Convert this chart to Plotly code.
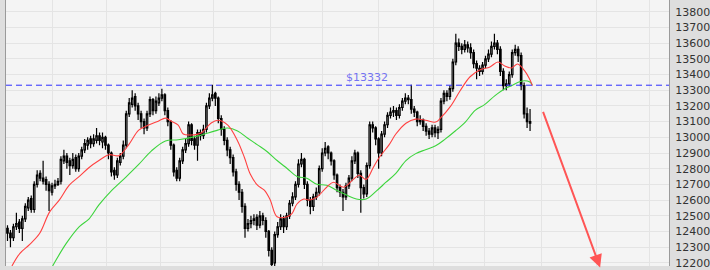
import plotly.graph_objects as go

# ---------------- data ----------------
idx = list(range(177))

opens = [12420,12390,12360,12430,12460,12420,12480,12550,12610,12540,
         12700,12770,12740,12730,12700,12650,12690,12700,12720,12850,
         12880,12850,12820,12870,12800,12880,12920,12950,12990,12960,
         12980,13010,12970,13000,12950,12900,12790,12760,12840,12880,
         12950,13150,13210,13260,13200,13150,13100,13060,13150,13240,
         13170,13220,13250,13270,13170,13100,12950,12790,12740,12850,
         12920,12960,13080,12990,12950,13030,13010,13050,13200,13250,
         13280,13250,13120,13050,12980,12920,12870,12780,12700,12650,
         12560,12420,12450,12470,12490,12440,12500,12470,12400,12280,
         12200,12380,12430,12480,12430,12500,12580,12620,12700,12830,
         12860,12700,12600,12560,12620,12650,12800,12900,12940,12900,
         12850,12760,12680,12650,12620,12690,12740,12850,12900,12770,
         12680,12640,12820,13080,13060,12990,12900,13020,13080,13140,
         13160,13170,13140,13190,13230,13250,13240,13180,13160,13100,
         13110,13070,13040,13020,13060,13030,13050,13230,13280,13260,
         13310,13480,13600,13580,13560,13590,13570,13540,13470,13440,
         13420,13460,13500,13530,13580,13600,13560,13420,13330,13340,
         13400,13540,13560,13520,13330,13150,13100]

closes = [12390,12360,12430,12450,12420,12480,12560,12600,12540,12700,
          12760,12740,12720,12700,12660,12690,12700,12720,12860,12880,
          12840,12820,12860,12800,12880,12920,12960,12980,12960,12990,
          13010,12980,13000,12950,12900,12780,12760,12850,12880,12950,
          13150,13220,13250,13200,13150,13100,13060,13150,13240,13170,
          13230,13250,13270,13170,13100,12950,12780,12740,12850,12920,
          12960,13080,12980,12950,13030,13010,13050,13200,13250,13270,
          13250,13120,13050,12980,12920,12870,12780,12700,12650,12560,
          12420,12450,12470,12480,12440,12500,12470,12400,12280,12190,
          12380,12430,12480,12430,12500,12580,12620,12700,12830,12860,
          12700,12600,12560,12620,12650,12800,12900,12930,12900,12850,
          12760,12680,12650,12620,12690,12740,12850,12900,12770,12680,
          12640,12820,13080,13060,12990,12900,13020,13080,13140,13160,
          13170,13140,13190,13230,13250,13240,13180,13160,13100,13110,
          13070,13040,13020,13060,13030,13050,13230,13280,13260,13310,
          13480,13600,13580,13560,13590,13570,13540,13470,13440,13420,
          13460,13500,13530,13580,13600,13560,13420,13330,13340,13400,
          13540,13560,13520,13330,13150,13100,13090]

highs = [12440,12410,12450,12520,12480,12500,12580,12620,12630,12720,
         12790,12790,12850,12750,12720,12710,12730,12740,12880,12920,
         12900,12870,12900,12890,12900,12940,12990,13000,13010,13020,
         13060,13030,13030,13010,12960,12910,12810,12870,12900,12980,
         13170,13250,13300,13280,13220,13170,13120,13170,13260,13250,
         13260,13280,13310,13280,13190,13110,12960,12810,12870,12940,
         12990,13100,13090,13010,13050,13050,13080,13220,13280,13335,
         13290,13260,13140,13070,13000,12940,12890,12800,12720,12670,
         12580,12480,12500,12510,12510,12530,12520,12490,12410,12300,
         12400,12460,12510,12500,12520,12600,12650,12720,12860,12900,
         12870,12720,12620,12640,12680,12820,12930,12970,12950,12910,
         12860,12770,12700,12670,12710,12760,12880,12920,12910,12790,
         12700,12840,13100,13100,13070,13000,13040,13100,13160,13190,
         13200,13190,13210,13250,13280,13270,13335,13200,13170,13140,
         13120,13090,13060,13080,13080,13070,13250,13300,13300,13330,
         13500,13660,13630,13600,13620,13610,13600,13560,13490,13460,
         13480,13520,13560,13610,13660,13620,13580,13440,13370,13420,
         13560,13590,13580,13540,13350,13190,13180]

lows = [12340,12300,12340,12410,12390,12340,12460,12530,12520,12520,
        12680,12720,12700,12660,12530,12630,12670,12690,12700,12830,
        12800,12760,12800,12780,12780,12860,12900,12920,12930,12940,
        12960,12950,12930,12920,12860,12750,12730,12740,12820,12860,
        12930,13130,13190,13170,13110,13060,13020,13040,13130,13140,
        13150,13200,13230,13140,13070,12920,12750,12720,12720,12830,
        12900,12940,12950,12920,12850,12980,12990,13030,13180,13230,
        13200,13090,13010,12950,12880,12830,12750,12660,12600,12520,
        12360,12400,12420,12440,12410,12420,12440,12360,12240,12160,
        12180,12360,12410,12390,12410,12480,12560,12600,12680,12810,
        12670,12560,12510,12530,12600,12630,12780,12880,12860,12820,
        12730,12650,12620,12530,12600,12670,12720,12830,12740,12520,
        12610,12620,12800,13030,12950,12800,12880,13000,13060,13120,
        13130,13110,13120,13170,13210,13210,13150,13130,13070,13080,
        13040,13010,12990,13000,13000,12990,13030,13210,13230,13240,
        13290,13460,13550,13530,13540,13540,13500,13440,13370,13390,
        13400,13440,13480,13510,13560,13530,13390,13300,13300,13320,
        13380,13520,13480,13300,13120,13060,13040]

# moving averages (candle index, price)
ma_fast_x = [1.5,4.2,7.5,10.8,14.2,17.5,20.8,24.2,27.5,30.8,34.2,37.5,40.8,44.2,
             47.5,50.8,53.2,55.2,57.5,59.2,61.8,65.2,68.5,70.8,74.2,77.5,79.8,
             81.8,84.2,86.5,88.5,90.8,94.2,95.8,97.5,99.8,101.8,104.2,107.5,
             109.8,113.2,116.5,118.5,120.8,123.2,125.2,128.5,130.8,134.2,137.5,
             140.8,144.2,145.8,149.2,152.5,155.8,159.2,162.5,165.2,167.5,169.8,
             171.8,174.2,175.8,176.8]
ma_fast_y = [12180,12261,12318,12387,12525,12601,12695,12751,12808,12852,12889,
             12883,12952,13046,13078,13103,13122,13103,13078,13021,13015,13028,
             13090,13109,13078,12977,12871,12764,12695,12663,12601,12494,12494,
             12513,12575,12607,12601,12619,12682,12714,12682,12732,12758,12732,
             12808,12871,12952,13021,13090,13116,13109,13097,13122,13197,13298,
             13386,13430,13448,13480,13455,13442,13467,13423,13373,13329]

ma_slow_x = [15.2,19.8,24.2,27.5,30.8,35.2,39.8,44.2,48.5,53.2,57.5,64.2,70.8,
             74.2,77.5,80.8,84.2,87.5,90.8,94.2,97.5,100.8,104.2,107.5,110.8,
             114.2,117.5,120.8,124.2,127.5,130.8,134.2,137.5,140.8,144.2,147.5,
             150.8,154.2,157.5,160.8,164.2,167.5,169.8,172.5,174.2,175.8,176.8]
ma_slow_y = [12180,12324,12431,12481,12569,12663,12745,12827,12914,12977,12984,
             13009,13046,13059,13040,12996,12952,12908,12852,12801,12751,12739,
             12701,12695,12663,12632,12607,12607,12657,12714,12770,12852,12896,
             12921,12946,12990,13040,13097,13172,13210,13266,13310,13329,13354,
             13360,13354,13335]

level = 13332
level_label = "$13332"
y_ticks = list(range(12200, 13801, 100))
grid_x = [15.2, 33.2, 51.5, 69.5, 88.5, 106.2, 124.8, 143.5, 160.5, 179.8, 198.5, 216.2]
arrow_tail = (180.2, 13172)
arrow_head = (199.6, 12170)

# ---------------- figure ----------------
fig = go.Figure()

fig.add_trace(go.Candlestick(
    x=idx, open=opens, high=highs, low=lows, close=closes,
    increasing=dict(line=dict(color="#000000", width=1.2), fillcolor="#ffffff"),
    decreasing=dict(line=dict(color="#000000", width=1.2), fillcolor="#000000"),
    whiskerwidth=0, showlegend=False, hoverinfo="skip"))

fig.add_trace(go.Scatter(x=ma_slow_x, y=ma_slow_y, mode="lines",
                         line=dict(color="#3cd43c", width=1.1, shape="spline"),
                         showlegend=False, hoverinfo="skip"))
fig.add_trace(go.Scatter(x=ma_fast_x, y=ma_fast_y, mode="lines",
                         line=dict(color="#ff4040", width=1.1, shape="spline"),
                         showlegend=False, hoverinfo="skip"))

fig.add_shape(type="line", xref="paper", x0=0, x1=1, yref="y", y0=level, y1=level,
              line=dict(color="#2e2eff", width=1, dash="6px,4px"))

fig.add_annotation(x=121.0, y=level, text=level_label, showarrow=False,
                   yanchor="bottom", yshift=-1,
                   font=dict(family="DejaVu Sans", size=11, color="#7474f2"))

fig.add_annotation(x=arrow_head[0], y=arrow_head[1], ax=arrow_tail[0], ay=arrow_tail[1],
                   xref="x", yref="y", axref="x", ayref="y", text="",
                   showarrow=True, arrowhead=2, arrowsize=1.3, arrowwidth=2,
                   arrowcolor="#ff5555")

fig.update_layout(
    width=710, height=270,
    margin=dict(l=6, r=34, t=0, b=0),
    paper_bgcolor="#dedede",
    plot_bgcolor="#f4f4f4",
    showlegend=False,
    xaxis=dict(range=[-0.5, 222.8], rangeslider=dict(visible=False),
               tickvals=grid_x, showticklabels=False, ticks="",
               showgrid=True, gridcolor="#e4e4e4", gridwidth=1, zeroline=False,
               fixedrange=True),
    yaxis=dict(range=[12180, 13875], side="right", tickvals=y_ticks,
               ticktext=[str(v) for v in y_ticks],
               showgrid=True, gridcolor="#e4e4e4", gridwidth=1, zeroline=False,
               showline=True, mirror=True, linecolor="#9a9a9a", linewidth=1,
               ticks="", ticklabelstandoff=3, ticklabeloverflow="allow",
               tickfont=dict(family="DejaVu Sans", size=11, color="#333333"),
               fixedrange=True),
)

fig.write_html("out.html")
